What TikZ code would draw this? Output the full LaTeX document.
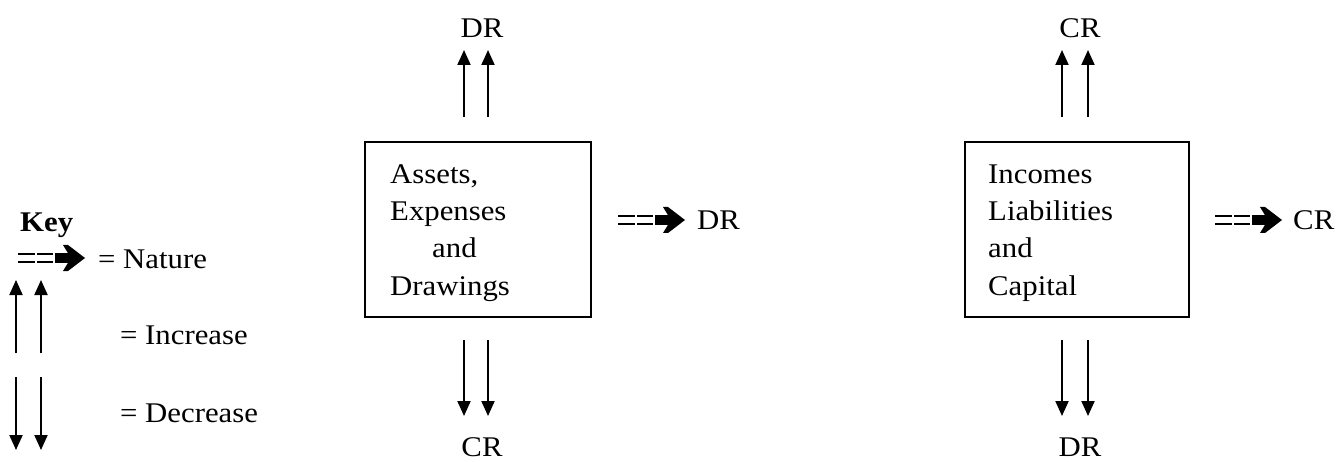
\documentclass[tikz,border=0pt]{standalone}
\usepackage{fontspec}
\setmainfont[FakeStretch=1.08]{Liberation Serif}
\usetikzlibrary{arrows.meta}
\tikzset{
  txt/.style={inner sep=0pt, anchor=base west, font=\fontsize{28.5}{36}\selectfont},
  lbl/.style={inner sep=0pt, anchor=base, font=\fontsize{28.5}{36}\selectfont},
  frame/.style={draw, line width=1.8pt, inner sep=0pt, anchor=north west},
  arr/.style={line width=2pt, -{Triangle[length=15pt,width=13pt]}},
  natsym/.pic={
    \draw[line width=2.2pt] (0,-3.9) -- (17,-3.9) (0,3.9) -- (17,3.9)
                            (19,-3.9) -- (35,-3.9) (19,3.9) -- (35,3.9);
    \fill (37,-4.8) -- (50,-4.8) -- (45,-13) -- (50,-13) -- (67,0)
          -- (50,13) -- (45,13) -- (50,4.8) -- (37,4.8) -- cycle;
  },
}
\begin{document}
\begin{tikzpicture}[x=1pt,y=-1pt]
\useasboundingbox (0,0) rectangle (1340,462);
% ---- left box
\node[frame, minimum width=226pt, minimum height=175pt] (boxA) at (364,141) {};
\node[txt] (a1) at (390,184) {Assets,};
\node[txt] (a2) at (390,221) {Expenses};
\node[txt] (a3) at (432,258) {and};
\node[txt] (a4) at (390,295) {Drawings};
\node[lbl] (drA) at (482,38) {DR};
\node[lbl] (crA) at (482,456) {CR};
\coordinate (au1) at (464,117); \coordinate (au2) at (488,117);
\coordinate (at1) at (464,50);  \coordinate (at2) at (488,50);
\draw[arr] (au1) -- (at1);
\draw[arr] (au2) -- (at2);
\coordinate (ad1) at (464,340); \coordinate (ad2) at (488,340);
\coordinate (ae1) at (464,416); \coordinate (ae2) at (488,416);
\draw[arr] (ad1) -- (ae1);
\draw[arr] (ad2) -- (ae2);
\pic at (618,220) {natsym};
\node[txt] (natA) at (697,230) {DR};
% ---- right box
\node[frame, minimum width=224pt, minimum height=175pt] (boxB) at (964,141) {};
\node[txt] (b1) at (988,184) {Incomes};
\node[txt] (b2) at (988,221) {Liabilities};
\node[txt] (b3) at (988,258) {and};
\node[txt] (b4) at (988,295) {Capital};
\node[lbl] (crB) at (1080,38) {CR};
\node[lbl] (drB) at (1080,456) {DR};
\coordinate (bu1) at (1062,117); \coordinate (bu2) at (1088,117);
\coordinate (bt1) at (1062,50);  \coordinate (bt2) at (1088,50);
\draw[arr] (bu1) -- (bt1);
\draw[arr] (bu2) -- (bt2);
\coordinate (bd1) at (1062,340); \coordinate (bd2) at (1088,340);
\coordinate (be1) at (1062,416); \coordinate (be2) at (1088,416);
\draw[arr] (bd1) -- (be1);
\draw[arr] (bd2) -- (be2);
\pic at (1215,220) {natsym};
\node[txt] (natB) at (1293,230) {CR};
% ---- key
\node[txt] (key) at (20,232) {\bfseries Key};
\pic at (18,258) {natsym};
\node[txt] (knat) at (98,268) {= Nature};
\coordinate (ku1) at (16,353); \coordinate (ku2) at (41,353);
\coordinate (kt1) at (16,280); \coordinate (kt2) at (41,280);
\draw[arr] (ku1) -- (kt1);
\draw[arr] (ku2) -- (kt2);
\node[txt] (kinc) at (120,344) {= Increase};
\coordinate (kd1) at (16,377); \coordinate (kd2) at (41,377);
\coordinate (ke1) at (16,450); \coordinate (ke2) at (41,450);
\draw[arr] (kd1) -- (ke1);
\draw[arr] (kd2) -- (ke2);
\node[txt] (kdec) at (120,422) {= Decrease};
\end{tikzpicture}
\end{document}
